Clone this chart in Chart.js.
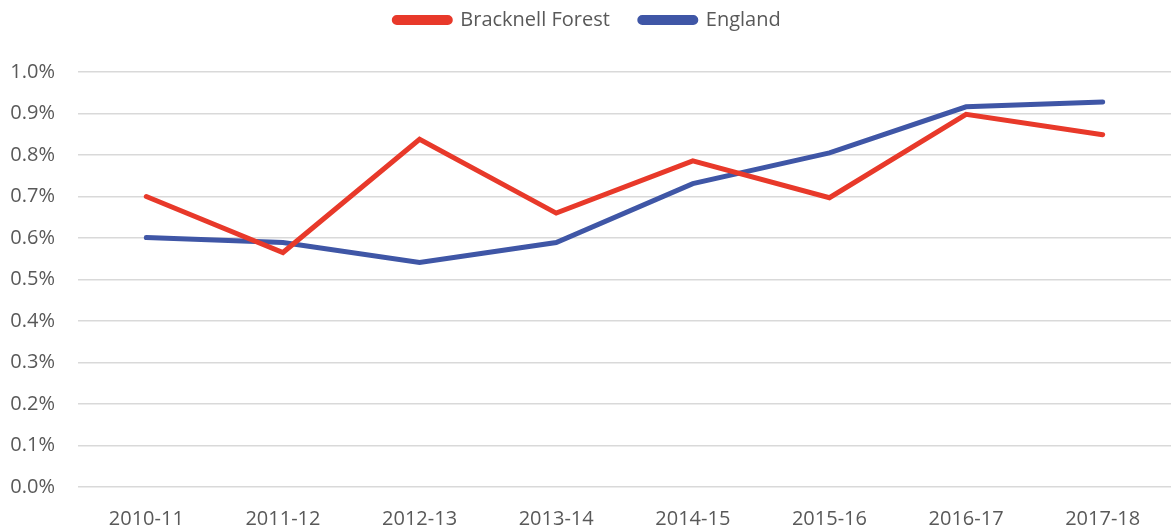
<!DOCTYPE html>
<html>
<head>
<meta charset="utf-8">
<script src="https://cdn.jsdelivr.net/npm/chart.js@4"></script>
<style>
  html, body { margin: 0; padding: 0; background: #fff; }
  #wrap { width: 1171px; height: 530px; }
</style>
</head>
<body>
<div id="wrap"><canvas id="chart"></canvas></div>
<script>
// values in percent
const years = ['2010-11', '2011-12', '2012-13', '2013-14', '2014-15', '2015-16', '2016-17', '2017-18'];
const bracknell = [0.70, 0.565, 0.838, 0.660, 0.786, 0.697, 0.898, 0.849];
const england = [0.601, 0.589, 0.541, 0.589, 0.731, 0.805, 0.916, 0.928];

const textColor = '#595959';
const font = { family: 'Open Sans', size: 20 };

// fixed legend block height, legend drawn a bit higher inside it
const legendHeight = {
    id: 'legendHeight',
    beforeInit(chart) {
        const fit = chart.legend.fit;
        chart.legend.fit = function () {
            fit.bind(chart.legend)();
            this.height = 72;
        };
    },
    afterLayout(chart) {
        chart.legend.top -= 20;
        chart.legend.bottom -= 20;
    }
};

new Chart(document.getElementById('chart'), {
    type: 'line',
    data: {
        labels: years,
        datasets: [{
            label: 'Bracknell Forest',
            data: bracknell,
            borderColor: '#E8392A',
            backgroundColor: '#E8392A',
            borderWidth: 5,
            pointRadius: 0,
            borderCapStyle: 'round',
            borderJoinStyle: 'miter',
            tension: 0
        }, {
            label: 'England',
            data: england,
            borderColor: '#3F56A6',
            backgroundColor: '#3F56A6',
            borderWidth: 5,
            pointRadius: 0,
            borderCapStyle: 'round',
            borderJoinStyle: 'miter',
            tension: 0
        }]
    },
    options: {
        responsive: true,
        maintainAspectRatio: false,
        animation: false,
        layout: { padding: { left: 0, right: -4, top: 0, bottom: 0 } },
        plugins: {
            tooltip: { enabled: false },
            legend: {
                position: 'top',
                labels: {
                    color: textColor,
                    font: font,
                    boxWidth: 56,
                    boxHeight: 5,
                    padding: 30,
                    useBorderRadius: true,
                    borderRadius: 2.5
                }
            }
        },
        scales: {
            x: {
                offset: true,
                grid: { display: false },
                border: { display: false },
                ticks: { color: textColor, font: font, maxRotation: 0, padding: 12 },
                afterFit: s => { s.height = 43; }
            },
            y: {
                min: 0,
                max: 1.0,
                ticks: {
                    stepSize: 0.1,
                    color: textColor,
                    font: font,
                    padding: 23,
                    callback: v => v.toFixed(1) + '%'
                },
                grid: { color: '#d9d9d9', lineWidth: 1.5, drawTicks: false },
                border: { display: false },
                afterFit: s => { s.width = 78; }
            }
        }
    },
    plugins: [legendHeight]
});
</script>
</body>
</html>
